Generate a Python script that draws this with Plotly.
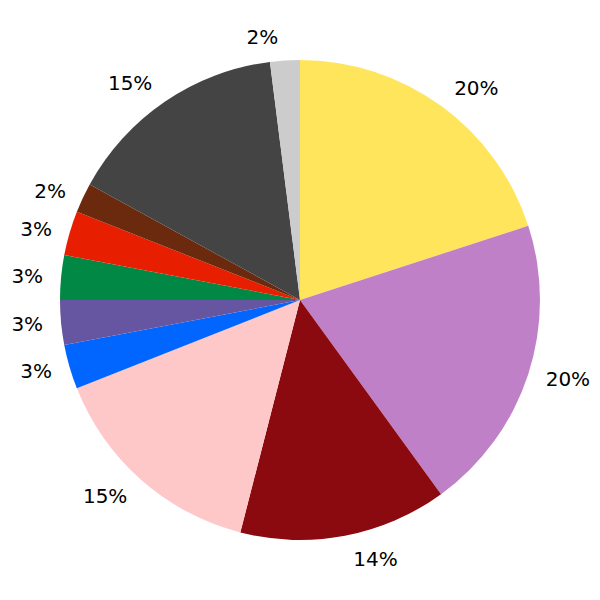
import plotly.graph_objects as go

labels = ["A", "B", "C", "D", "E", "F", "G", "H", "I", "J", "K"]
values = [20, 20, 14, 15, 3, 3, 3, 3, 2, 15, 2]
colors = ["#FFE55C", "#BF80C8", "#8B0A10", "#FFC8C8", "#0066FF", "#6655A0",
          "#008844", "#E81E00", "#6B2A0E", "#444444", "#CCCCCC"]

inner = [12 / 504, 492 / 504]

fig = go.Figure()
fig.add_trace(go.Pie(
    labels=labels, values=values, sort=False, direction="clockwise",
    rotation=0, marker=dict(colors=colors, line=dict(width=0)),
    textinfo="none", showlegend=False, automargin=False,
    domain=dict(x=inner, y=inner),
))
fig.add_trace(go.Pie(
    labels=labels, values=values, sort=False, direction="clockwise",
    rotation=0, marker=dict(colors=["rgba(0,0,0,0)"] * len(values), line=dict(width=0)),
    textinfo="percent", textposition="outside",
    texttemplate="%{percent:.0%}",
    textfont=dict(family="DejaVu Sans", size=20, color="black"),
    showlegend=False, automargin=False, hoverinfo="skip",
    domain=dict(x=[0, 1], y=[0, 1]),
))
fig.update_layout(width=600, height=600, margin=dict(l=40, r=56, t=40, b=56),
                  paper_bgcolor="white", plot_bgcolor="white")
fig.write_html("out.html")
